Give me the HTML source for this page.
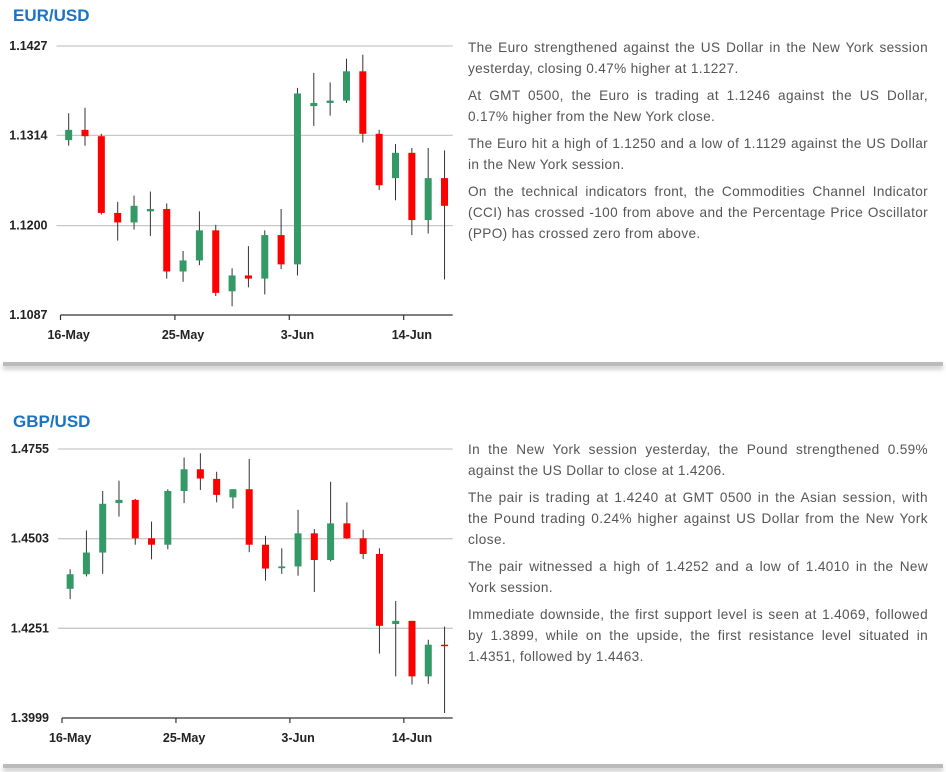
<!DOCTYPE html>
<html><head><meta charset="utf-8">
<style>
body{margin:0;width:946px;height:772px;background:#fff;position:relative;overflow:hidden;font-family:"Liberation Sans",sans-serif}
.title{position:absolute;left:13px;font-size:17px;font-weight:bold;color:#1a73c4}
.txt{position:absolute;left:468px;width:460px;font-size:13.6px;letter-spacing:0.35px;line-height:21px;color:#555;text-align:justify}
.txt p{margin:0 0 6px 0}
.txt p.wide{letter-spacing:0.45px}
.sep{position:absolute;left:3px;width:940px;height:4px;background:#bbb;box-shadow:0 3px 5px rgba(0,0,0,0.25)}
svg{position:absolute;left:0;top:0}
</style></head><body>
<div class="title" style="top:6px">EUR/USD</div>
<div class="title" style="top:412px">GBP/USD</div>
<div class="txt" style="top:37px">
<p>The Euro strengthened against the US Dollar in the New York session yesterday, closing 0.47% higher at 1.1227.</p>
<p>At GMT 0500, the Euro is trading at 1.1246 against the US Dollar, 0.17% higher from the New York close.</p>
<p>The Euro hit a high of 1.1250 and a low of 1.1129 against the US Dollar in the New York session.</p>
<p>On the technical indicators front, the Commodities Channel Indicator (CCI) has crossed -100 from above and the Percentage Price Oscillator (PPO) has crossed zero from above.</p>
</div>
<div class="txt" style="top:439px">
<p>In the New York session yesterday, the Pound strengthened 0.59% against the US Dollar to close at 1.4206.</p>
<p class="wide">The pair is trading at 1.4240 at GMT 0500 in the Asian session, with the Pound trading 0.24% higher against US Dollar from the New York close.</p>
<p>The pair witnessed a high of 1.4252 and a low of 1.4010 in the New York session.</p>
<p>Immediate downside, the first support level is seen at 1.4069, followed by 1.3899, while on the upside, the first resistance level situated in 1.4351, followed by 1.4463.</p>
</div>
<div class="sep" style="top:362px"></div>
<div class="sep" style="top:764px"></div>
<svg id="chart" width="946" height="772"></svg>
<script>
const dateLabels=["16-May","25-May","3-Jun","14-Jun"];
const dateLabelIdx=[0,7,14,21];
const eurTicks=[1.1427,1.1314,1.1200,1.1087];
const eurOpen =[1.1308,1.1321,1.1313,1.1216,1.1204,1.1218,1.1221,1.1142,1.1156,1.1194,1.1117,1.1137,1.1133,1.1188,1.1151,1.1351,1.1355,1.1358,1.1395,1.1316,1.1260,1.1292,1.1207,1.1260];
const eurHigh =[1.1342,1.1349,1.1316,1.1230,1.1238,1.1243,1.1228,1.1168,1.1218,1.1201,1.1146,1.1174,1.1194,1.1221,1.1374,1.1393,1.1381,1.1411,1.1416,1.1321,1.1303,1.1298,1.1298,1.1295];
const eurLow  =[1.1301,1.1301,1.1214,1.1181,1.1195,1.1187,1.1133,1.1129,1.1150,1.1111,1.1098,1.1122,1.1113,1.1145,1.1137,1.1326,1.1339,1.1355,1.1305,1.1245,1.1232,1.1188,1.1190,1.1132];
const eurClose=[1.1321,1.1313,1.1216,1.1204,1.1225,1.1221,1.1142,1.1156,1.1194,1.1115,1.1137,1.1133,1.1188,1.1151,1.1367,1.1355,1.1358,1.1395,1.1316,1.1251,1.1292,1.1207,1.1260,1.1225];
const gbpTicks=[1.4755,1.4503,1.4251,1.3999];
const gbpOpen =[1.4362,1.4403,1.4464,1.4603,1.4612,1.4504,1.4486,1.4637,1.4698,1.4671,1.4619,1.4642,1.4486,1.4420,1.4425,1.4518,1.4443,1.4546,1.4504,1.4460,1.4263,1.4272,1.4116,1.4205];
const gbpHigh =[1.4417,1.4526,1.4637,1.4666,1.4615,1.4551,1.4642,1.4731,1.4743,1.4691,1.4642,1.4727,1.4511,1.4476,1.4584,1.4530,1.4663,1.4605,1.4528,1.4476,1.4328,1.4272,1.4219,1.4256];
const gbpLow  =[1.4333,1.4397,1.4404,1.4565,1.4486,1.4445,1.4473,1.4603,1.4640,1.4605,1.4588,1.4465,1.4385,1.4404,1.4399,1.4353,1.4439,1.4502,1.4446,1.4180,1.4116,1.4093,1.4095,1.4013];
const gbpClose=[1.4403,1.4464,1.4601,1.4612,1.4504,1.4486,1.4637,1.4698,1.4672,1.4626,1.4642,1.4486,1.4419,1.4425,1.4518,1.4443,1.4546,1.4504,1.4460,1.4258,1.4272,1.4116,1.4205,1.4203];

const svg=document.getElementById('chart');
const NS='http://www.w3.org/2000/svg';
function mk(tag,attrs){const e=document.createElementNS(NS,tag);for(const k in attrs)e.setAttribute(k,attrs[k]);svg.appendChild(e);return e;}
function draw(cfg,O,H,L,C,ticks){
  const n=O.length, slot=(cfg.x1-cfg.x0)/n;
  const vmax=ticks[0], vmin=ticks[ticks.length-1];
  const y=v=>cfg.yTop+(vmax-v)/(vmax-vmin)*(cfg.yBot-cfg.yTop);
  const xc=i=>cfg.x0+(i+0.5)*slot;
  ticks.forEach((t,k)=>{
    const yy=y(t);
    if(k<ticks.length-1){
      const g=mk('line',{x1:cfg.x0-4,x2:cfg.x1,y1:yy,y2:yy,stroke:'#c8c8c8','stroke-width':1.3});
      
      
    }
    const tx=mk('text',{x:cfg.x0-13,y:yy+4,'text-anchor':'end','font-size':12.5,'font-weight':'bold',fill:'#222','font-family':'Liberation Sans, sans-serif'});
    tx.textContent=t.toFixed(4);
    
    
  });
  const ax=mk('line',{x1:cfg.x0,x2:cfg.x1,y1:cfg.yBot,y2:cfg.yBot,stroke:'#333','stroke-width':1.2});
  
  
  dateLabelIdx.forEach((di,k)=>{
    const tx0=cfg.x0+di*slot;
    mk('line',{x1:tx0,x2:tx0,y1:cfg.yBot,y2:cfg.yBot+5,stroke:'#333','stroke-width':1.2});
    const lb=mk('text',{x:xc(di),y:cfg.yBot+24,'text-anchor':'middle','font-size':12.5,'font-weight':'bold',fill:'#222','font-family':'Liberation Sans, sans-serif'});
    lb.textContent=dateLabels[k];
    
    
  });
  for(let i=0;i<n;i++){
    const cx=xc(i);
    const w=mk('line',{x1:cx,x2:cx,y1:y(H[i]),y2:y(L[i]),stroke:'#333','stroke-width':1});
    
    
    const up=C[i]>=O[i];
    const top=y(Math.max(O[i],C[i])), bot=y(Math.min(O[i],C[i]));
    const b=mk('rect',{x:cx-3.5,y:top,width:7,height:Math.max(bot-top,1.5),fill:up?'#339966':'#ff0000'});
    
    
  }
}
draw({name:'eur',x0:60.5,x1:452.7,yTop:46,yBot:315},eurOpen,eurHigh,eurLow,eurClose,eurTicks);
draw({name:'gbp',x0:62,x1:452.7,yTop:449,yBot:718},gbpOpen,gbpHigh,gbpLow,gbpClose,gbpTicks);
</script>
</body></html>
